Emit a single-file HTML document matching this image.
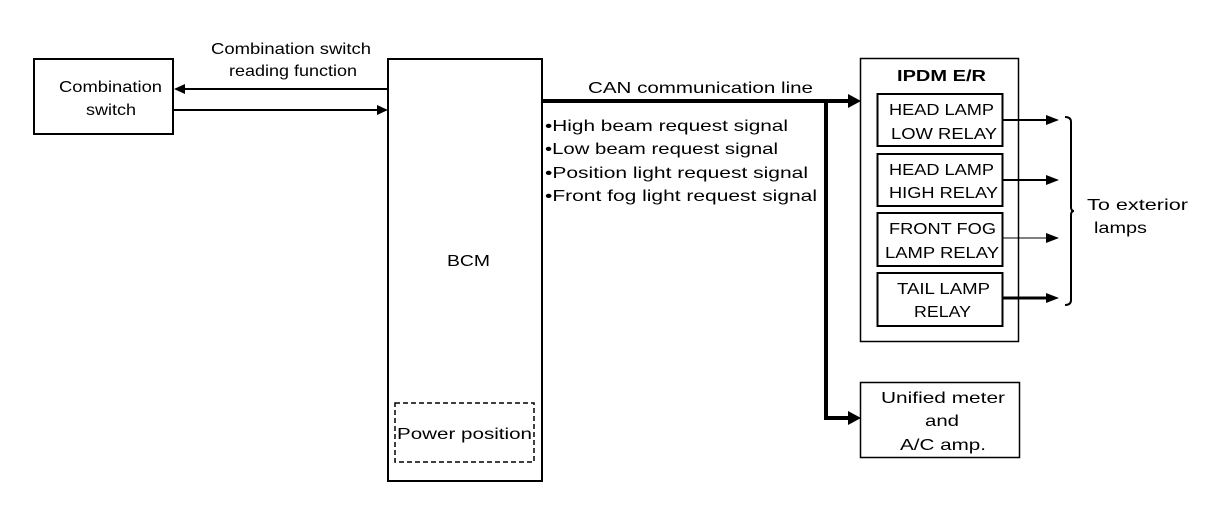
<!DOCTYPE html>
<html><head><style>body{margin:0;background:#fff}svg{display:block}text{font-family:"Liberation Sans",sans-serif;font-size:16px;fill:#000}</style></head>
<body>
<svg width="1216" height="512" viewBox="0 0 1216 512" xmlns="http://www.w3.org/2000/svg">
<g fill="none" stroke="#000">
<rect x="34" y="59" width="139" height="75" stroke-width="2"/>
<rect x="388" y="59" width="154" height="422" stroke-width="2"/>
<rect x="395" y="403" width="139" height="59" stroke-width="1.5" stroke-dasharray="5,3"/>
<rect x="860.5" y="58.5" width="158" height="283" stroke-width="1.5"/>
<rect x="877.5" y="94" width="125" height="52" stroke-width="2"/>
<rect x="877.5" y="154" width="125" height="52" stroke-width="2"/>
<rect x="877.5" y="213" width="125" height="53" stroke-width="2"/>
<rect x="877.5" y="273" width="125" height="53" stroke-width="2"/>
<rect x="860.5" y="382.5" width="159" height="75" stroke-width="1.5"/>
<line x1="387" y1="89" x2="184" y2="89" stroke-width="2"/>
<line x1="174" y1="110" x2="378" y2="110" stroke-width="2"/>
<line x1="543" y1="101" x2="850" y2="101" stroke-width="4"/>
<polyline points="826,101 826,418 850,418" stroke-width="4"/>
<line x1="1003" y1="120" x2="1050" y2="120" stroke-width="2"/>
<line x1="1003" y1="180" x2="1050" y2="180" stroke-width="2"/>
<line x1="1003" y1="238" x2="1050" y2="238" stroke-width="1"/>
<line x1="1003" y1="298" x2="1050" y2="298" stroke-width="3"/>
<path d="M1065,117 Q1071,117 1071,122 L1071,207 Q1071,211 1074,211 Q1071,211 1071,215 L1071,300 Q1071,305 1065,305" stroke-width="2"/>
</g>
<g fill="#000">
<polygon points="174,89 185,84 185,94"/>
<polygon points="388,110 377,105 377,115"/>
<polygon points="861,101 848,94 848,108"/>
<polygon points="861,418 848,411 848,425"/>
<polygon points="1059,120 1046,115 1046,125"/>
<polygon points="1059,180 1046,175 1046,185"/>
<polygon points="1059,238 1046,233 1046,243"/>
<polygon points="1059,298 1046,293 1046,303"/>
</g>
<g lengthAdjust="spacingAndGlyphs">
<text x="211" y="54" textLength="160" lengthAdjust="spacingAndGlyphs">Combination switch</text>
<text x="229" y="76" textLength="128" lengthAdjust="spacingAndGlyphs">reading function</text>
<text x="59" y="92" textLength="103" lengthAdjust="spacingAndGlyphs">Combination</text>
<text x="86" y="115" textLength="50" lengthAdjust="spacingAndGlyphs">switch</text>
<text x="447" y="266" textLength="43" lengthAdjust="spacingAndGlyphs">BCM</text>
<text x="397" y="439" textLength="135" lengthAdjust="spacingAndGlyphs">Power position</text>
<text x="588" y="93" textLength="225" lengthAdjust="spacingAndGlyphs">CAN communication line</text>
<text x="545" y="131" textLength="243" lengthAdjust="spacingAndGlyphs">•High beam request signal</text>
<text x="545" y="154" textLength="233" lengthAdjust="spacingAndGlyphs">•Low beam request signal</text>
<text x="545" y="178" textLength="263" lengthAdjust="spacingAndGlyphs">•Position light request signal</text>
<text x="545" y="201" textLength="272" lengthAdjust="spacingAndGlyphs">•Front fog light request signal</text>
<text x="897" y="81" font-weight="bold" textLength="89" lengthAdjust="spacingAndGlyphs">IPDM E/R</text>
<text x="889" y="115" textLength="105" lengthAdjust="spacingAndGlyphs">HEAD LAMP</text>
<text x="891" y="139" textLength="106" lengthAdjust="spacingAndGlyphs">LOW RELAY</text>
<text x="889" y="175" textLength="105" lengthAdjust="spacingAndGlyphs">HEAD LAMP</text>
<text x="889" y="198" textLength="109" lengthAdjust="spacingAndGlyphs">HIGH RELAY</text>
<text x="889" y="234" textLength="107" lengthAdjust="spacingAndGlyphs">FRONT FOG</text>
<text x="885" y="258" textLength="114" lengthAdjust="spacingAndGlyphs">LAMP RELAY</text>
<text x="897" y="294" textLength="93" lengthAdjust="spacingAndGlyphs">TAIL LAMP</text>
<text x="914" y="317" textLength="57" lengthAdjust="spacingAndGlyphs">RELAY</text>
<text x="1087" y="210" textLength="101" lengthAdjust="spacingAndGlyphs">To exterior</text>
<text x="1094" y="233" textLength="53" lengthAdjust="spacingAndGlyphs">lamps</text>
<text x="881" y="403" textLength="124" lengthAdjust="spacingAndGlyphs">Unified meter</text>
<text x="925" y="426" textLength="34" lengthAdjust="spacingAndGlyphs">and</text>
<text x="900" y="450" textLength="86" lengthAdjust="spacingAndGlyphs">A/C amp.</text>
</g>
</svg>
</body></html>
